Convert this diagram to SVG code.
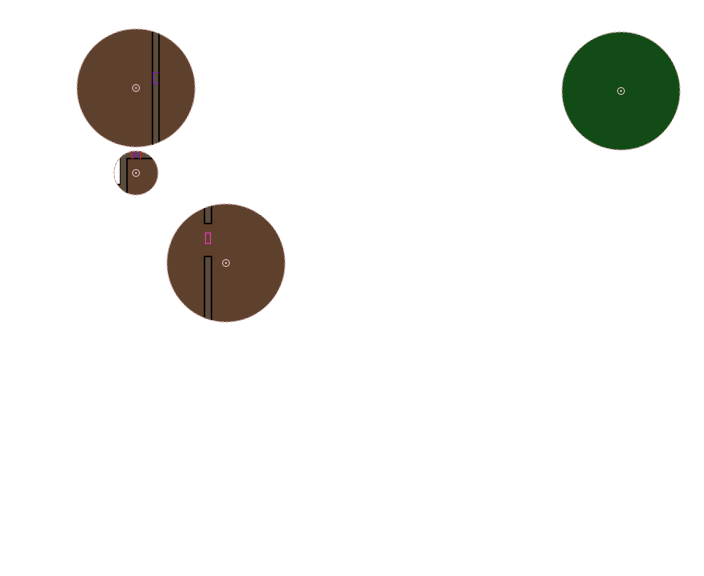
<svg xmlns="http://www.w3.org/2000/svg" width="704" height="576" viewBox="0 0 704 576">
<style>
.room{fill:#5e412c}
.green{fill:#124b15}
.edge{fill:none;stroke:#c9a3a3;stroke-width:1;stroke-dasharray:3 1.5}
.wall{fill:#5b4c3b;stroke:#000;stroke-width:1.5}
.blk{stroke:#000;stroke-width:1.5;fill:none}
.mk{fill:none;stroke:#dcbcbc;stroke-width:1}
.dot{fill:#dcbcbc}
</style>
<defs>
<clipPath id="c1"><circle cx="136" cy="88" r="59"/></clipPath>
<clipPath id="c2"><circle cx="136" cy="173" r="22"/></clipPath>
<clipPath id="c3"><circle cx="226" cy="263" r="59"/></clipPath>
</defs>
<rect width="704" height="576" fill="#fff"/>
<g id="room1">
<circle class="room" cx="136" cy="88" r="59"/>
<g clip-path="url(#c1)">
<rect class="wall" x="152.5" y="20" width="6.5" height="140"/>
</g>
<path d="M158.5 72.5 H153.5 V83.5 H158.5" fill="none" stroke="#7a22b0" stroke-width="1.2"/>
<circle class="edge" cx="136" cy="88" r="59"/>
<circle class="mk" cx="136" cy="88" r="3.5"/>
<circle class="dot" cx="136" cy="88" r="1"/>
</g>
<g id="room2">
<circle class="room" cx="136" cy="173" r="22"/>
<g clip-path="url(#c2)">
<rect x="100" y="157.5" width="20.5" height="27" fill="#fff"/>
<path class="blk" d="M120.5 157.5 V184.5 H100"/>
<rect x="120.5" y="145" width="6.5" height="60" fill="#5b4c3b"/>
<rect x="120.5" y="145" width="45" height="13.5" fill="#5b4c3b"/>
<path class="blk" d="M127 205 V158.5 H170"/>
</g>
<line x1="132" y1="151" x2="132" y2="159" stroke="#d02020" stroke-width="1.2"/>
<line x1="140.5" y1="151" x2="140.5" y2="159" stroke="#d02020" stroke-width="1.2"/>
<path d="M134 151.5 V158.5 M138.5 151.5 V158.5 M134 155 H138.5" fill="none" stroke="#7a22b0" stroke-width="1.2"/>
<circle class="edge" cx="136" cy="173" r="22"/>
<circle class="mk" cx="136" cy="173" r="3.5"/>
<circle class="dot" cx="136" cy="173" r="1"/>
</g>
<g id="room3">
<circle class="room" cx="226" cy="263" r="59"/>
<g clip-path="url(#c3)">
<rect class="wall" x="204.5" y="195" width="7" height="28.5"/>
<rect class="wall" x="204.5" y="256.5" width="7" height="80"/>
</g>
<rect x="205.5" y="233" width="5" height="10.5" fill="none" stroke="#d33aa8" stroke-width="1.2"/>
<circle class="edge" cx="226" cy="263" r="59"/>
<circle class="mk" cx="226" cy="263" r="3.5"/>
<circle class="dot" cx="226" cy="263" r="1"/>
</g>
<g id="room4">
<circle class="green" cx="621" cy="91" r="59"/>
<circle class="edge" cx="621" cy="91" r="59"/>
<circle class="mk" cx="621" cy="91" r="3.5"/>
<circle class="dot" cx="621" cy="91" r="1"/>
</g>
<g id="connectors"/>
</svg>
